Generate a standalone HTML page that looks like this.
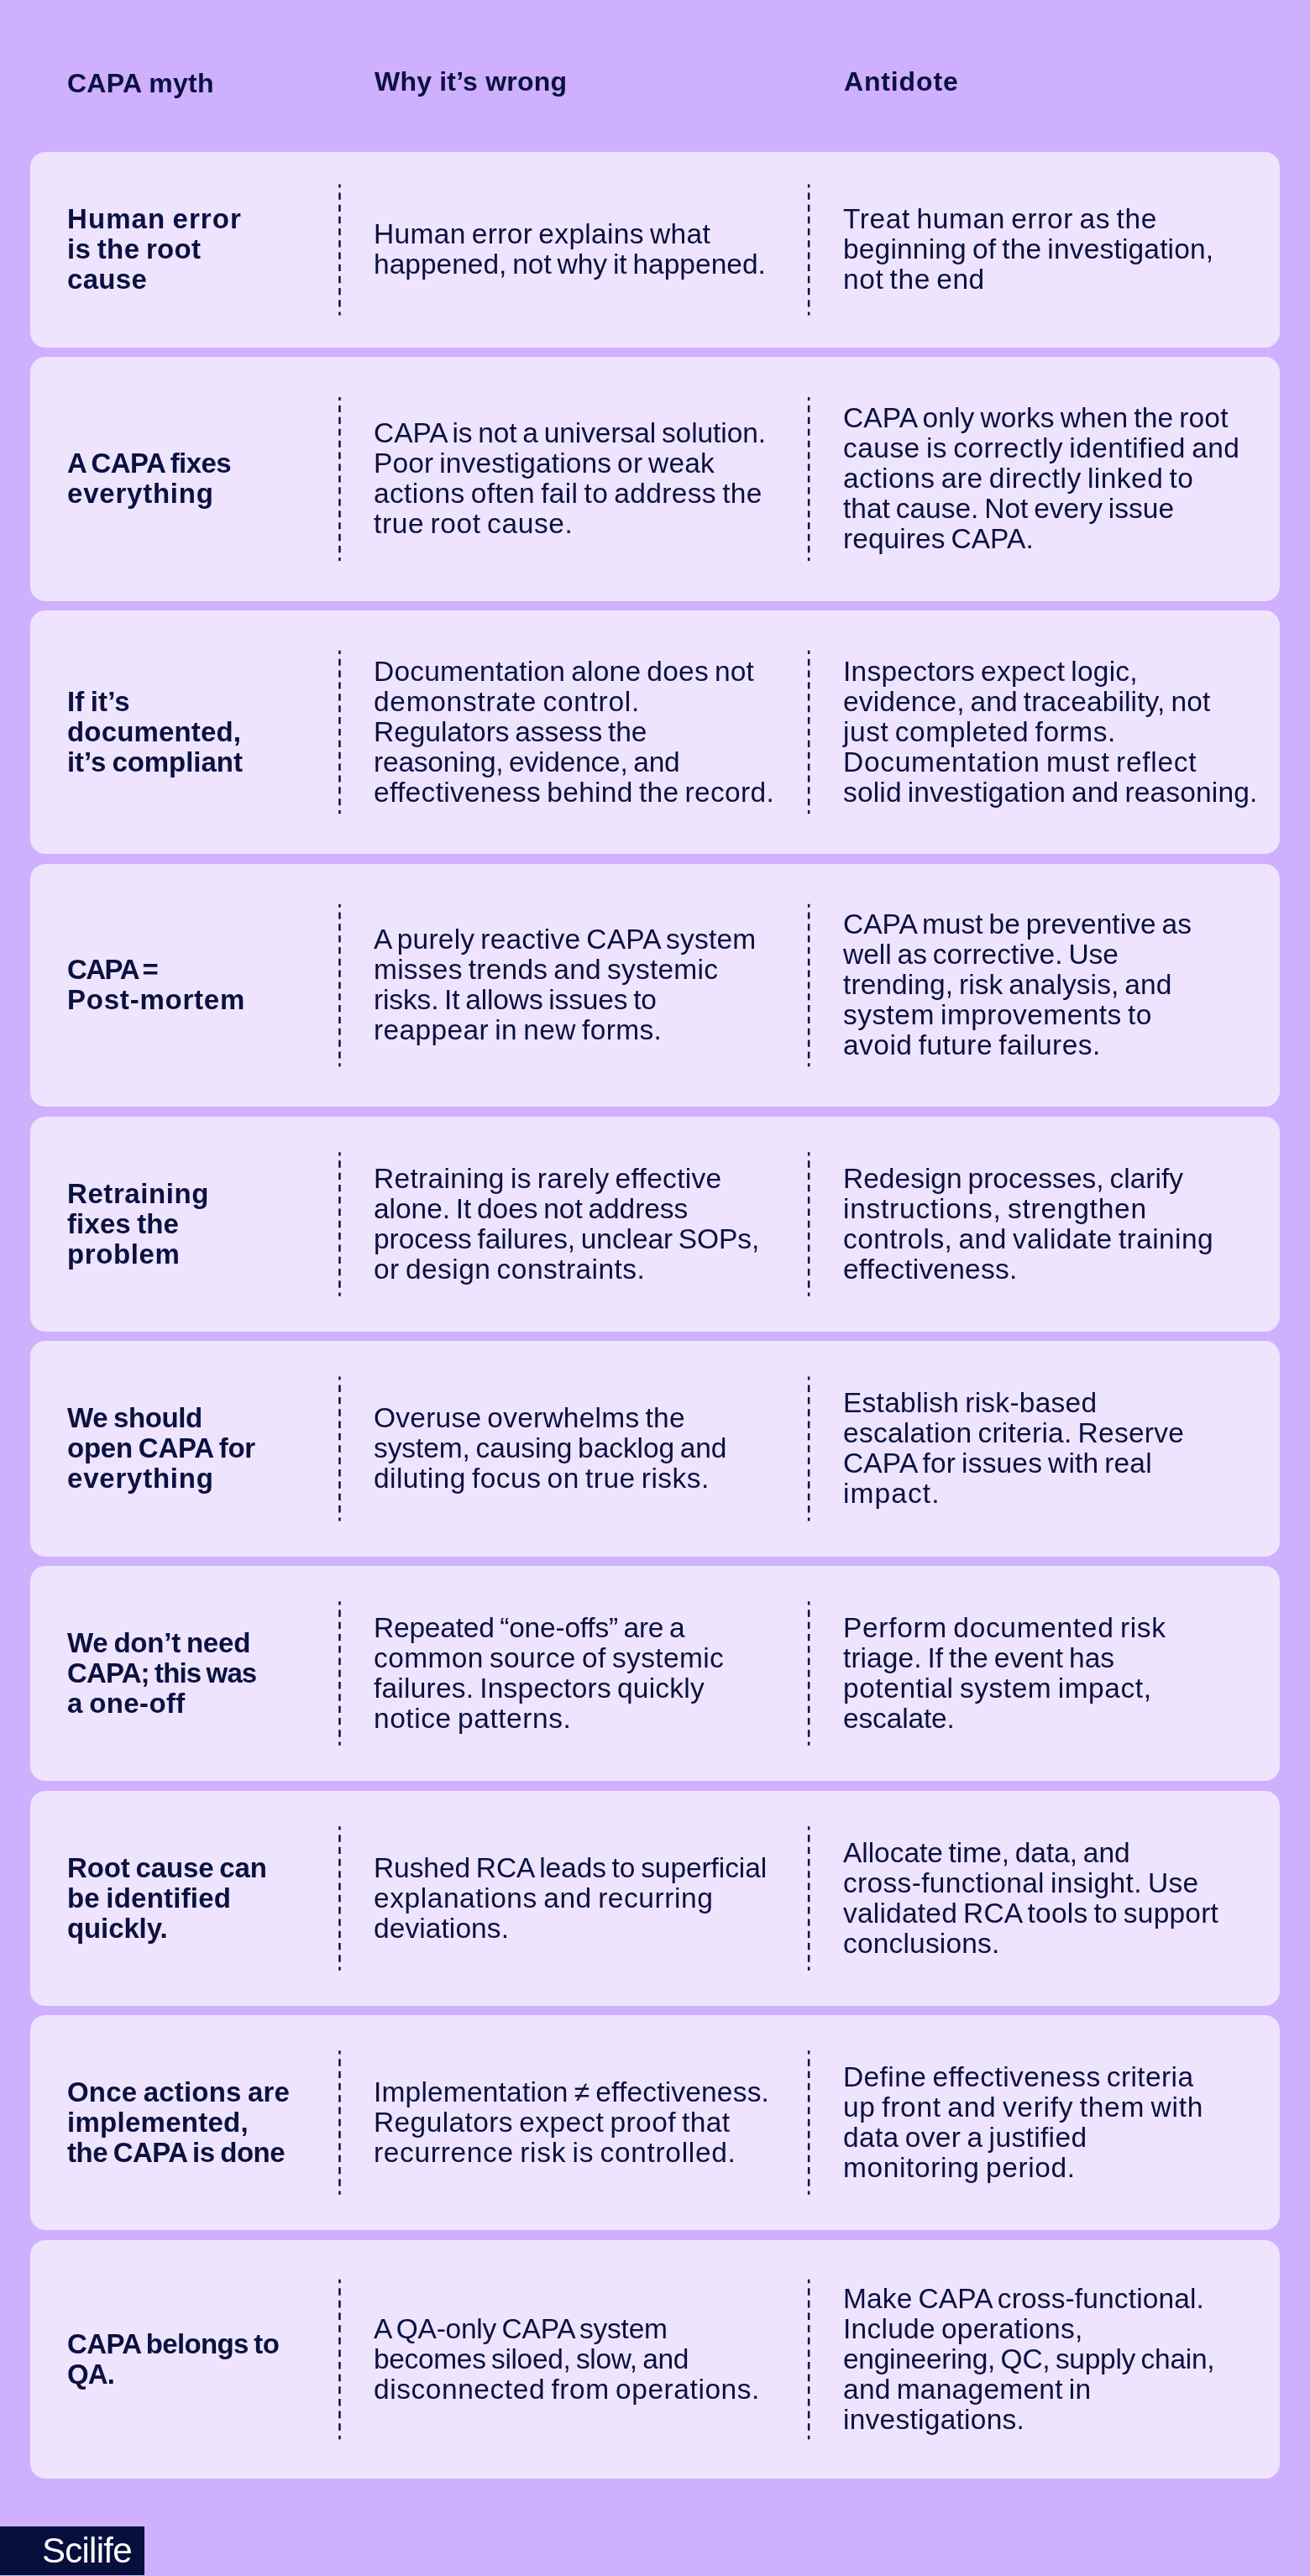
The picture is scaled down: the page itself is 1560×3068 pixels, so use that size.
<!DOCTYPE html>
<html><head><meta charset="utf-8"><style>
html,body{margin:0;padding:0;}
body{width:1560px;height:3068px;background:#cfb0fe;position:relative;overflow:hidden;font-family:"Liberation Sans",sans-serif;color:#0a1140;}
.h{position:absolute;font-weight:700;font-size:32px;line-height:36px;white-space:nowrap;will-change:transform;}
.card{position:absolute;left:36px;width:1488px;background:#eee4fe;border-radius:18px;}
.t{position:absolute;font-size:33.5px;line-height:36px;white-space:nowrap;will-change:transform;word-spacing:-2.5px;}
.b{font-weight:700;font-size:33px;word-spacing:-2.0px;}
.d{position:absolute;}
.logo{position:absolute;left:0;top:3009px;width:172px;height:58px;background:#070f3d;}
.logo span{position:absolute;left:49.5px;top:3.65px;font-size:42px;line-height:50px;color:#fff;white-space:nowrap;letter-spacing:-0.75px;will-change:transform;}
</style></head><body>

<div class="h" style="left:80px;top:80.71px;letter-spacing:0.25px">CAPA myth</div>
<div class="h" style="left:446.4px;top:78.71px;letter-spacing:0.2px">Why it’s wrong</div>
<div class="h" style="left:1005.3px;top:78.71px;letter-spacing:0.85px">Antidote</div>
<div class="card" style="top:181px;height:233px">
<div class="t b" style="left:43.5px;top:62.47px"><span style="letter-spacing:1.080px">Human error</span><br><span style="letter-spacing:0.360px">is the root</span><br><span style="letter-spacing:0.300px">cause</span></div>
<div class="t" style="left:408.5px;top:80.29px"><span style="letter-spacing:0.333px">Human error explains what</span><br><span>happened, not why it happened.</span></div>
<div class="t" style="left:968px;top:62.29px"><span style="letter-spacing:0.609px">Treat human error as the</span><br><span style="letter-spacing:0.180px">beginning of the investigation,</span><br><span style="letter-spacing:0.560px">not the end</span></div>
<svg class="d" style="left:365px;top:38px" width="6" height="159"><line x1="3.45" y1="0.44" x2="3.45" y2="156.56" stroke="#0a1140" stroke-width="2.5" stroke-dasharray="8.302 5.890" stroke-dashoffset="4.151"/></svg>
<svg class="d" style="left:924px;top:38px" width="6" height="159"><line x1="3.15" y1="0.44" x2="3.15" y2="156.56" stroke="#0a1140" stroke-width="2.5" stroke-dasharray="8.302 5.890" stroke-dashoffset="4.151"/></svg>
</div>
<div class="card" style="top:425px;height:291px">
<div class="t b" style="left:43.5px;top:109.47px"><span style="letter-spacing:-0.582px">A CAPA fixes</span><br><span style="letter-spacing:0.778px">everything</span></div>
<div class="t" style="left:408.5px;top:73.29px"><span style="letter-spacing:-0.062px">CAPA is not a universal solution.</span><br><span style="letter-spacing:0.138px">Poor investigations or weak</span><br><span style="letter-spacing:0.350px">actions often fail to address the</span><br><span style="letter-spacing:0.600px">true root cause.</span></div>
<div class="t" style="left:968px;top:55.29px"><span style="letter-spacing:0.150px">CAPA only works when the root</span><br><span style="letter-spacing:0.456px">cause is correctly identified and</span><br><span style="letter-spacing:0.469px">actions are directly linked to</span><br><span>that cause. Not every issue</span><br><span style="letter-spacing:0.062px">requires CAPA.</span></div>
<svg class="d" style="left:365px;top:48px" width="6" height="197"><line x1="3.45" y1="0.02" x2="3.45" y2="194.99" stroke="#0a1140" stroke-width="2.5" stroke-dasharray="8.147 5.779" stroke-dashoffset="4.073"/></svg>
<svg class="d" style="left:924px;top:48px" width="6" height="197"><line x1="3.15" y1="0.02" x2="3.15" y2="194.99" stroke="#0a1140" stroke-width="2.5" stroke-dasharray="8.147 5.779" stroke-dashoffset="4.073"/></svg>
</div>
<div class="card" style="top:727px;height:290px">
<div class="t b" style="left:43.5px;top:90.97px"><span style="letter-spacing:0.133px">If it’s</span><br><span style="letter-spacing:0.160px">documented,</span><br><span style="letter-spacing:-0.046px">it’s compliant</span></div>
<div class="t" style="left:408.5px;top:54.79px"><span style="letter-spacing:0.222px">Documentation alone does not</span><br><span style="letter-spacing:0.705px">demonstrate control.</span><br><span style="letter-spacing:-0.050px">Regulators assess the</span><br><span style="letter-spacing:-0.200px">reasoning, evidence, and</span><br><span style="letter-spacing:0.323px">effectiveness behind the record.</span></div>
<div class="t" style="left:968px;top:54.79px"><span style="letter-spacing:0.243px">Inspectors expect logic,</span><br><span style="letter-spacing:0.133px">evidence, and traceability, not</span><br><span style="letter-spacing:0.550px">just completed forms.</span><br><span style="letter-spacing:0.712px">Documentation must reflect</span><br><span style="letter-spacing:0.164px">solid investigation and reasoning.</span></div>
<svg class="d" style="left:365px;top:47px" width="6" height="197"><line x1="3.45" y1="0.85" x2="3.45" y2="195.15" stroke="#0a1140" stroke-width="2.5" stroke-dasharray="8.119 5.760" stroke-dashoffset="4.059"/></svg>
<svg class="d" style="left:924px;top:47px" width="6" height="197"><line x1="3.15" y1="0.85" x2="3.15" y2="195.15" stroke="#0a1140" stroke-width="2.5" stroke-dasharray="8.119 5.760" stroke-dashoffset="4.059"/></svg>
</div>
<div class="card" style="top:1029px;height:289px">
<div class="t b" style="left:43.5px;top:108.47px"><span style="letter-spacing:-1.520px">CAPA =</span><br><span style="letter-spacing:0.780px">Post-mortem</span></div>
<div class="t" style="left:408.5px;top:72.29px"><span style="letter-spacing:0.214px">A purely reactive CAPA system</span><br><span style="letter-spacing:0.240px">misses trends and systemic</span><br><span style="letter-spacing:-0.120px">risks. It allows issues to</span><br><span style="letter-spacing:0.371px">reappear in new forms.</span></div>
<div class="t" style="left:968px;top:54.29px"><span style="letter-spacing:0.040px">CAPA must be preventive as</span><br><span style="letter-spacing:0.018px">well as corrective. Use</span><br><span style="letter-spacing:0.081px">trending, risk analysis, and</span><br><span style="letter-spacing:0.448px">system improvements to</span><br><span style="letter-spacing:0.457px">avoid future failures.</span></div>
<svg class="d" style="left:365px;top:47px" width="6" height="196"><line x1="3.45" y1="0.68" x2="3.45" y2="194.31" stroke="#0a1140" stroke-width="2.5" stroke-dasharray="8.091 5.740" stroke-dashoffset="4.045"/></svg>
<svg class="d" style="left:924px;top:47px" width="6" height="196"><line x1="3.15" y1="0.68" x2="3.15" y2="194.31" stroke="#0a1140" stroke-width="2.5" stroke-dasharray="8.091 5.740" stroke-dashoffset="4.045"/></svg>
</div>
<div class="card" style="top:1330px;height:256px">
<div class="t b" style="left:43.5px;top:73.97px"><span style="letter-spacing:0.578px">Retraining</span><br><span style="letter-spacing:0.125px">fixes the</span><br><span style="letter-spacing:0.600px">problem</span></div>
<div class="t" style="left:408.5px;top:55.79px"><span style="letter-spacing:0.310px">Retraining is rarely effective</span><br><span style="letter-spacing:-0.048px">alone. It does not address</span><br><span style="letter-spacing:-0.080px">process failures, unclear SOPs,</span><br><span style="letter-spacing:0.448px">or design constraints.</span></div>
<div class="t" style="left:968px;top:55.79px"><span style="letter-spacing:0.015px">Redesign processes, clarify</span><br><span style="letter-spacing:0.748px">instructions, strengthen</span><br><span style="letter-spacing:0.413px">controls, and validate training</span><br><span style="letter-spacing:0.231px">effectiveness.</span></div>
<svg class="d" style="left:365px;top:42px" width="6" height="174"><line x1="3.45" y1="0.24" x2="3.45" y2="171.76" stroke="#0a1140" stroke-width="2.5" stroke-dasharray="8.362 5.932" stroke-dashoffset="4.181"/></svg>
<svg class="d" style="left:924px;top:42px" width="6" height="174"><line x1="3.15" y1="0.24" x2="3.15" y2="171.76" stroke="#0a1140" stroke-width="2.5" stroke-dasharray="8.362 5.932" stroke-dashoffset="4.181"/></svg>
</div>
<div class="card" style="top:1597px;height:257px">
<div class="t b" style="left:43.5px;top:74.47px"><span style="letter-spacing:-0.375px">We should</span><br><span style="letter-spacing:-0.233px">open CAPA for</span><br><span style="letter-spacing:0.778px">everything</span></div>
<div class="t" style="left:408.5px;top:74.29px"><span style="letter-spacing:0.238px">Overuse overwhelms the</span><br><span style="letter-spacing:-0.085px">system, causing backlog and</span><br><span style="letter-spacing:0.450px">diluting focus on true risks.</span></div>
<div class="t" style="left:968px;top:56.29px"><span style="letter-spacing:0.253px">Establish risk-based</span><br><span style="letter-spacing:0.252px">escalation criteria. Reserve</span><br><span style="letter-spacing:0.167px">CAPA for issues with real</span><br><span style="letter-spacing:1.100px">impact.</span></div>
<svg class="d" style="left:365px;top:42px" width="6" height="175"><line x1="3.45" y1="0.41" x2="3.45" y2="172.59" stroke="#0a1140" stroke-width="2.5" stroke-dasharray="8.394 5.955" stroke-dashoffset="4.197"/></svg>
<svg class="d" style="left:924px;top:42px" width="6" height="175"><line x1="3.15" y1="0.41" x2="3.15" y2="172.59" stroke="#0a1140" stroke-width="2.5" stroke-dasharray="8.394 5.955" stroke-dashoffset="4.197"/></svg>
</div>
<div class="card" style="top:1865px;height:256px">
<div class="t b" style="left:43.5px;top:73.97px"><span style="letter-spacing:-0.217px">We don’t need</span><br><span style="letter-spacing:-0.862px">CAPA; this was</span><br><span style="letter-spacing:0.375px">a one-off</span></div>
<div class="t" style="left:408.5px;top:55.79px"><span style="letter-spacing:-0.208px">Repeated “one-offs” are a</span><br><span style="letter-spacing:0.383px">common source of systemic</span><br><span style="letter-spacing:0.215px">failures. Inspectors quickly</span><br><span style="letter-spacing:0.547px">notice patterns.</span></div>
<div class="t" style="left:968px;top:55.79px"><span style="letter-spacing:0.673px">Perform documented risk</span><br><span style="letter-spacing:0.070px">triage. If the event has</span><br><span style="letter-spacing:0.548px">potential system impact,</span><br><span style="letter-spacing:-0.150px">escalate.</span></div>
<svg class="d" style="left:365px;top:42px" width="6" height="174"><line x1="3.45" y1="0.24" x2="3.45" y2="171.76" stroke="#0a1140" stroke-width="2.5" stroke-dasharray="8.362 5.932" stroke-dashoffset="4.181"/></svg>
<svg class="d" style="left:924px;top:42px" width="6" height="174"><line x1="3.15" y1="0.24" x2="3.15" y2="171.76" stroke="#0a1140" stroke-width="2.5" stroke-dasharray="8.362 5.932" stroke-dashoffset="4.181"/></svg>
</div>
<div class="card" style="top:2133px;height:256px">
<div class="t b" style="left:43.5px;top:73.97px"><span style="letter-spacing:-0.154px">Root cause can</span><br><span style="letter-spacing:0.217px">be identified</span><br><span style="letter-spacing:-0.114px">quickly.</span></div>
<div class="t" style="left:408.5px;top:73.79px"><span style="letter-spacing:-0.073px">Rushed RCA leads to superficial</span><br><span style="letter-spacing:0.560px">explanations and recurring</span><br><span style="letter-spacing:0.080px">deviations.</span></div>
<div class="t" style="left:968px;top:55.79px"><span style="letter-spacing:-0.043px">Allocate time, data, and</span><br><span style="letter-spacing:0.329px">cross-functional insight. Use</span><br><span style="letter-spacing:0.214px">validated RCA tools to support</span><br><span style="letter-spacing:0.182px">conclusions.</span></div>
<svg class="d" style="left:365px;top:42px" width="6" height="174"><line x1="3.45" y1="0.24" x2="3.45" y2="171.76" stroke="#0a1140" stroke-width="2.5" stroke-dasharray="8.362 5.932" stroke-dashoffset="4.181"/></svg>
<svg class="d" style="left:924px;top:42px" width="6" height="174"><line x1="3.15" y1="0.24" x2="3.15" y2="171.76" stroke="#0a1140" stroke-width="2.5" stroke-dasharray="8.362 5.932" stroke-dashoffset="4.181"/></svg>
</div>
<div class="card" style="top:2400px;height:256px">
<div class="t b" style="left:43.5px;top:73.97px"><span style="letter-spacing:0.200px">Once actions are</span><br><span style="letter-spacing:0.273px">implemented,</span><br><span style="letter-spacing:-0.507px">the CAPA is done</span></div>
<div class="t" style="left:408.5px;top:73.79px"><span style="letter-spacing:0.187px">Implementation ≠ effectiveness.</span><br><span style="letter-spacing:0.400px">Regulators expect proof that</span><br><span style="letter-spacing:0.669px">recurrence risk is controlled.</span></div>
<div class="t" style="left:968px;top:55.79px"><span style="letter-spacing:0.400px">Define effectiveness criteria</span><br><span style="letter-spacing:0.714px">up front and verify them with</span><br><span style="letter-spacing:0.350px">data over a justified</span><br><span style="letter-spacing:0.612px">monitoring period.</span></div>
<svg class="d" style="left:365px;top:42px" width="6" height="174"><line x1="3.45" y1="0.24" x2="3.45" y2="171.76" stroke="#0a1140" stroke-width="2.5" stroke-dasharray="8.362 5.932" stroke-dashoffset="4.181"/></svg>
<svg class="d" style="left:924px;top:42px" width="6" height="174"><line x1="3.15" y1="0.24" x2="3.15" y2="171.76" stroke="#0a1140" stroke-width="2.5" stroke-dasharray="8.362 5.932" stroke-dashoffset="4.181"/></svg>
</div>
<div class="card" style="top:2668px;height:284px">
<div class="t b" style="left:43.5px;top:105.97px"><span style="letter-spacing:-0.643px">CAPA belongs to</span><br><span style="letter-spacing:-0.900px">QA.</span></div>
<div class="t" style="left:408.5px;top:87.79px"><span style="letter-spacing:-0.250px">A QA-only CAPA system</span><br><span style="letter-spacing:-0.342px">becomes siloed, slow, and</span><br><span style="letter-spacing:0.557px">disconnected from operations.</span></div>
<div class="t" style="left:968px;top:51.79px"><span style="letter-spacing:0.138px">Make CAPA cross-functional.</span><br><span style="letter-spacing:0.256px">Include operations,</span><br><span style="letter-spacing:-0.276px">engineering, QC, supply chain,</span><br><span style="letter-spacing:0.250px">and management in</span><br><span style="letter-spacing:0.257px">investigations.</span></div>
<svg class="d" style="left:365px;top:46px" width="6" height="193"><line x1="3.45" y1="0.86" x2="3.45" y2="191.14" stroke="#0a1140" stroke-width="2.5" stroke-dasharray="8.563 6.074" stroke-dashoffset="4.281"/></svg>
<svg class="d" style="left:924px;top:46px" width="6" height="193"><line x1="3.15" y1="0.86" x2="3.15" y2="191.14" stroke="#0a1140" stroke-width="2.5" stroke-dasharray="8.563 6.074" stroke-dashoffset="4.281"/></svg>
</div>
<div class="logo"><span>Scilife</span></div>
</body></html>
